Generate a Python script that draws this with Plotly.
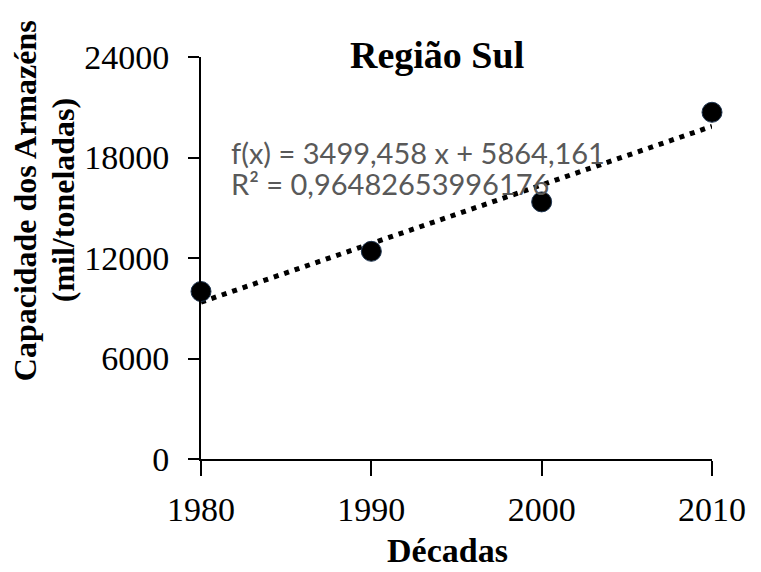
import numpy as np
import plotly.graph_objects as go

# Data
decades = [1980, 1990, 2000, 2010]
capacity = [10000, 12400, 15350, 20700]
y_ticks = [0, 6000, 12000, 18000, 24000]
slope = 3499.458
intercept = 5864.161
r2_text = "0,96482653996176"
y_title_lines = ["Capacidade dos Armazéns", "(mil/toneladas)"]

idx = np.arange(1, len(decades) + 1)
trend = slope * idx + intercept

fig = go.Figure()
fig.add_trace(go.Scatter(
    x=decades, y=trend, mode="lines",
    line=dict(color="black", width=5, dash="5px,6px"),
    hoverinfo="skip", showlegend=False, cliponaxis=False,
))
fig.add_trace(go.Scatter(
    x=decades, y=capacity, mode="markers",
    marker=dict(size=20, color="black", line=dict(color="#1f3550", width=1)),
    showlegend=False, cliponaxis=False,
))

serif = "Liberation Serif, Times New Roman, serif"
sans = "Lato, Carlito, Calibri, sans-serif"
eq1 = f"f(x) = {slope:.3f} x + {intercept:.3f}".replace(".", ",")
eq2 = f"R² = {r2_text}"

fig.update_layout(
    width=761, height=572,
    paper_bgcolor="white", plot_bgcolor="white",
    margin=dict(l=193, r=57, t=49, b=121),
    xaxis=dict(
        range=[1980, 2010], tickvals=decades, ticktext=[str(d) for d in decades],
        showgrid=False, zeroline=False, showline=True, linecolor="black", linewidth=2,
        ticks="outside", ticklen=15, tickwidth=2, tickcolor="black",
        tickfont=dict(family=serif, size=34, color="black"),
        ticklabelstandoff=4,
    ),
    yaxis=dict(
        range=[0, 24000], tickvals=y_ticks, ticktext=[str(v) for v in y_ticks],
        showgrid=False, zeroline=False, showline=True, linecolor="black", linewidth=2,
        ticks="outside", ticklen=11, tickwidth=2, tickcolor="black",
        tickfont=dict(family=serif, size=34, color="black"),
        ticklabelstandoff=12,
    ),
    annotations=[
        dict(text="<b>Região Sul</b>", xref="paper", yref="paper", x=0.462, y=1.005,
             xanchor="center", yanchor="middle", showarrow=False,
             font=dict(family=serif, size=38, color="black")),
        dict(text="<b>Décadas</b>", xref="paper", yref="paper", x=0.483, y=-0.227,
             xanchor="center", yanchor="middle", showarrow=False,
             font=dict(family=serif, size=34, color="black")),
        dict(text=f"<b>{y_title_lines[0]}</b>", xref="paper", yref="paper",
             x=-0.345, y=0.643, xanchor="center", yanchor="middle", showarrow=False,
             textangle=-90, font=dict(family=serif, size=32, color="black")),
        dict(text=f"<b>{y_title_lines[1]}</b>", xref="paper", yref="paper",
             x=-0.2706, y=0.643, xanchor="center", yanchor="middle", showarrow=False,
             textangle=-90, font=dict(family=serif, size=32, color="black")),
        dict(text=eq1, xref="paper", yref="paper", x=0.054, y=0.762, xanchor="left",
             yanchor="middle", showarrow=False,
             font=dict(family=sans, size=29, color="#595959")),
        dict(text=eq2, xref="paper", yref="paper", x=0.054, y=0.685, xanchor="left",
             yanchor="middle", showarrow=False,
             font=dict(family=sans, size=29, color="#595959")),
    ],
)

fig.write_html("out.html")
